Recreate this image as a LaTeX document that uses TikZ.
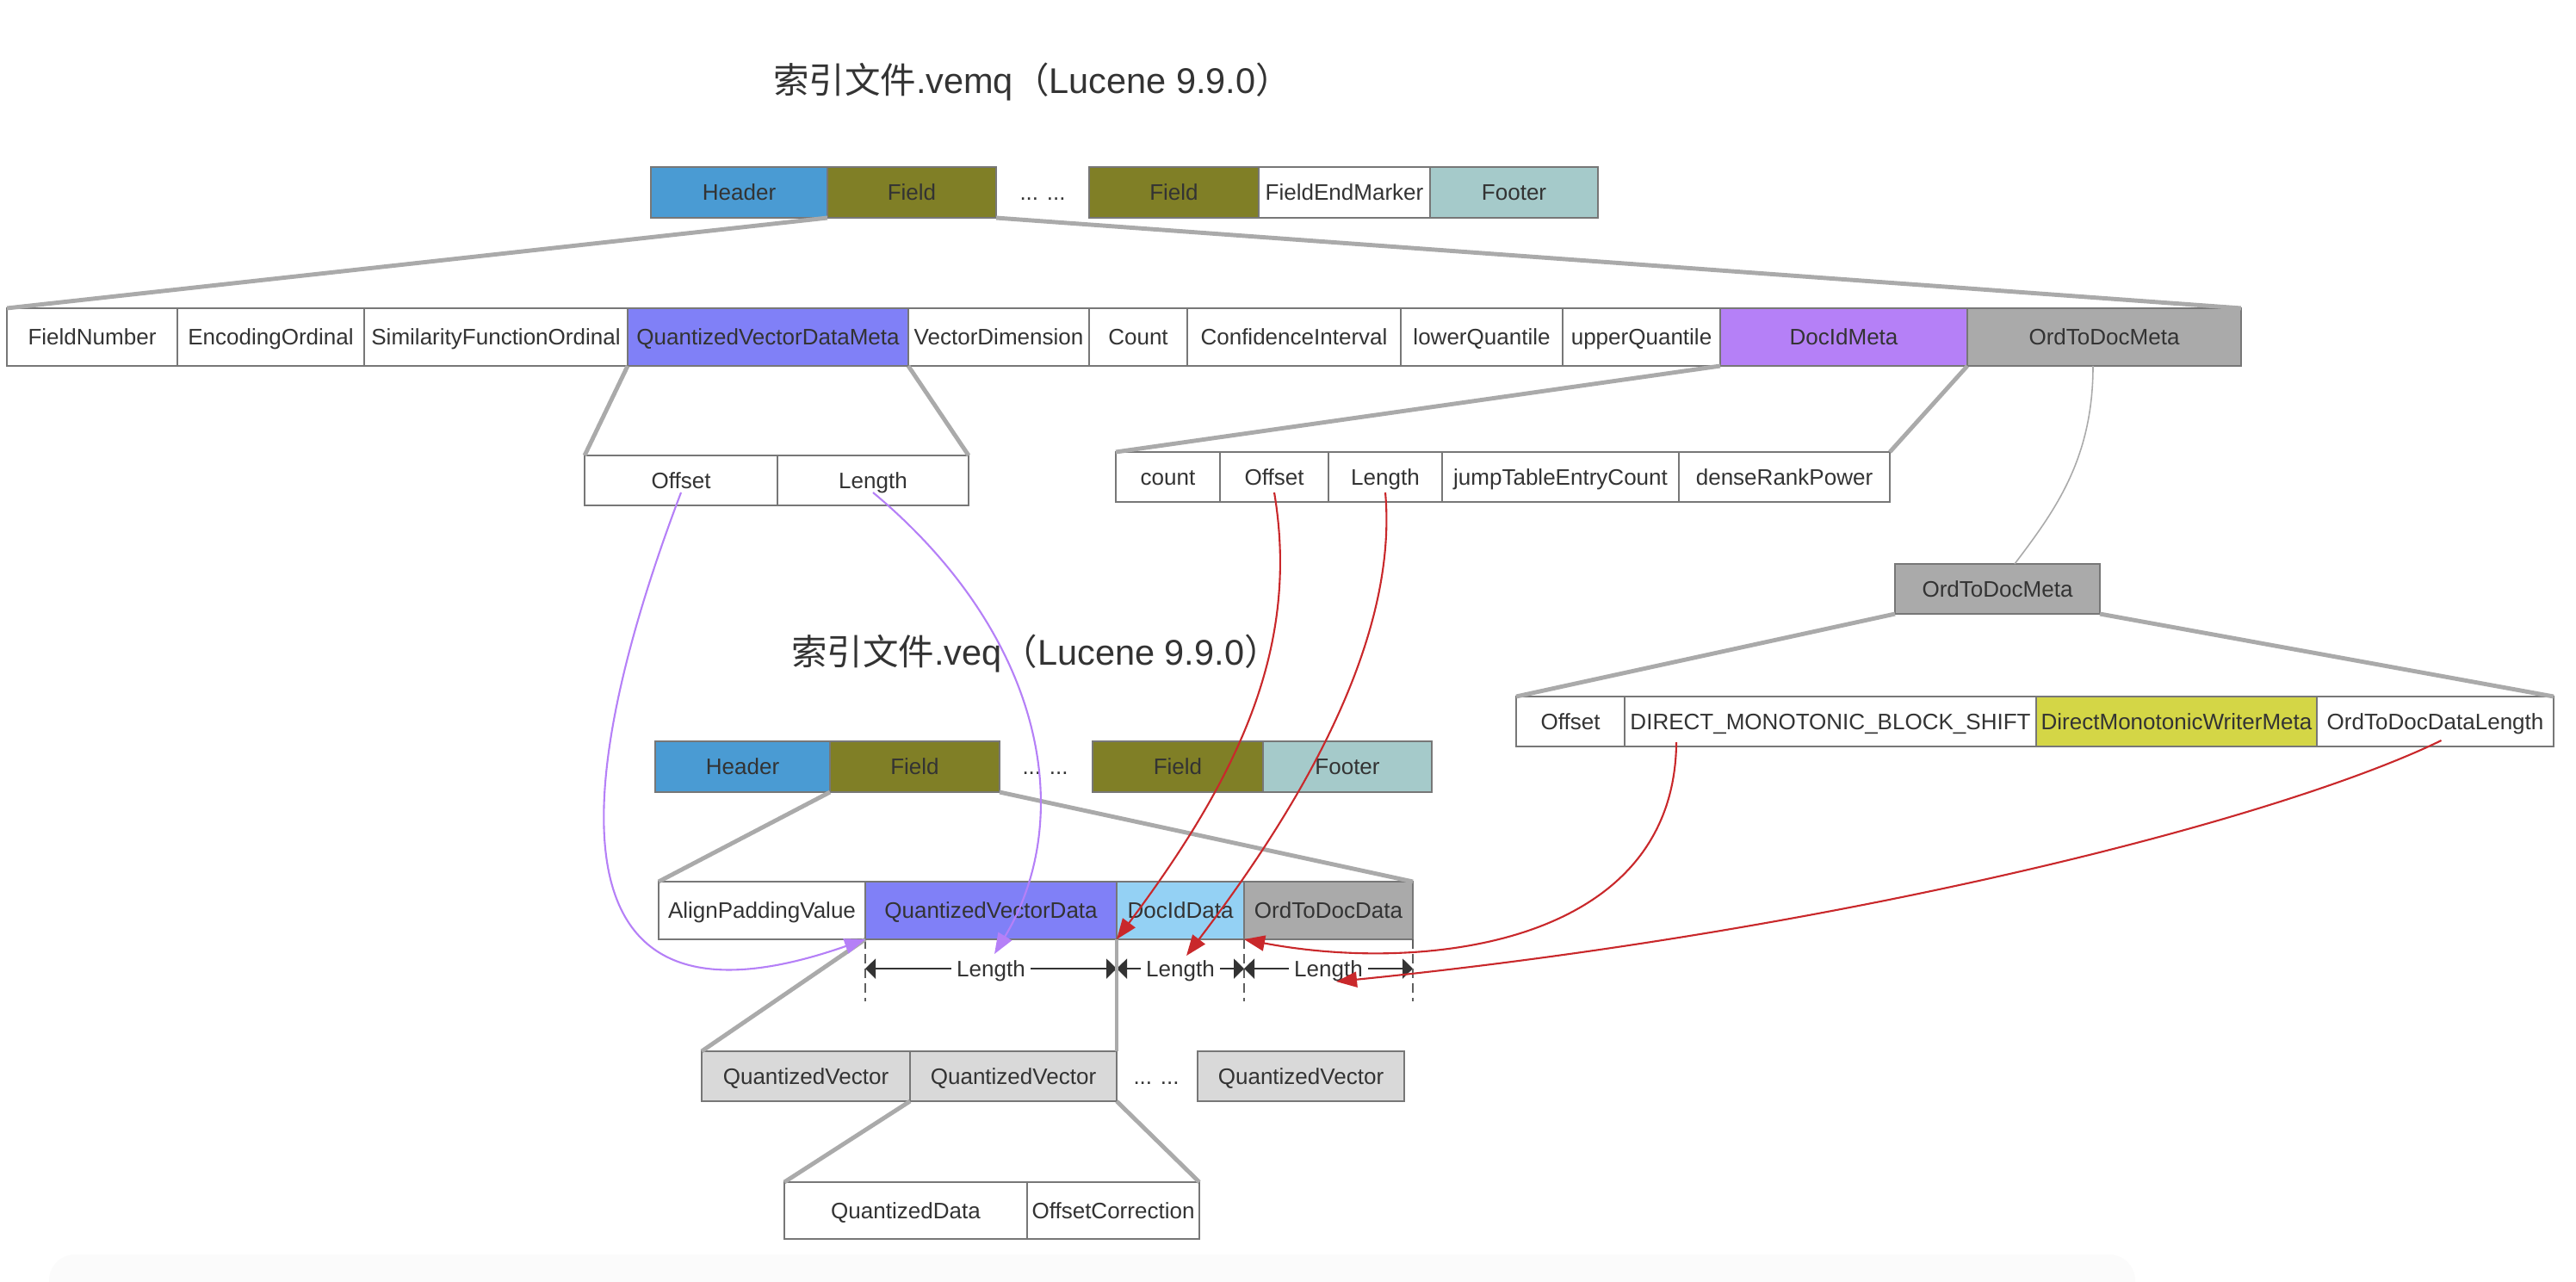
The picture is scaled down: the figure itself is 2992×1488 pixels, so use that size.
\documentclass[tikz,border=0pt]{standalone}
\usepackage{fontspec}
\setmainfont{Liberation Sans}
\newfontfamily\cjk{Noto Sans CJK SC}
\usepackage{xcolor}
\usepackage{tikz}
\usetikzlibrary{positioning}
\usetikzlibrary{arrows.meta}

\definecolor{hdrblue}{HTML}{4A9BD3}
\definecolor{fldolive}{HTML}{807F26}
\definecolor{ftrteal}{HTML}{A5CACA}
\definecolor{qvblue}{HTML}{8080F7}
\definecolor{docpurple}{HTML}{B580F7}
\definecolor{ordgray}{HTML}{AAAAAA}
\definecolor{docsky}{HTML}{94D1F4}
\definecolor{dmwyellow}{HTML}{D4D646}
\definecolor{vecgray}{HTML}{D9D9D9}
\definecolor{boxline}{HTML}{777777}
\definecolor{linkgray}{HTML}{AAAAAA}
\definecolor{txtgray}{HTML}{333333}
\definecolor{ptrred}{HTML}{C9282B}
\definecolor{ptrpurple}{HTML}{B580F7}

\begin{document}
\begin{tikzpicture}[x=0.01cm, y=-0.01cm,
    cell/.style={draw=boxline, line width=0.75pt, inner sep=0pt, outer sep=0pt,
        text height=0.186cm, text depth=0cm,
        text=txtgray, font=\fontsize{7.4pt}{9pt}\selectfont},
    dots/.style={text height=0.186cm, text depth=0cm, text=txtgray,
        font=\fontsize{7.4pt}{9pt}\selectfont},
    title/.style={text=txtgray, font=\fontsize{11.8pt}{14pt}\selectfont},
    link/.style={draw=linkgray, line width=1.4pt},
    thinlink/.style={draw=linkgray, line width=0.45pt},
    redptr/.style={draw=ptrred, line width=0.6pt, -{Triangle[length=0.24cm, width=0.18cm]}},
    purpleptr/.style={draw=ptrpurple, line width=0.6pt, -{Triangle[length=0.24cm, width=0.18cm]}},
    dimline/.style={draw=txtgray, line width=0.6pt,
        {Triangle[length=0.12cm, width=0.23cm]}-{Triangle[length=0.12cm, width=0.23cm]}},
    dimlabel/.style={fill=white, inner xsep=0.06cm, inner ysep=0pt, text=txtgray,
        text height=0.186cm, text depth=0cm, font=\fontsize{7.4pt}{9pt}\selectfont},
    extline/.style={draw=boxline!80!black, line width=0.55pt, dash pattern=on 0.11cm off 0.06cm}]

    \useasboundingbox (0,0) rectangle (2992,1488);
    % Sombra al pie
    \fill[black!1.5, rounded corners=0.3cm] (57,1457) rectangle (2480,1530);

    % Archivo .vemq
    \node[title] (vemqtitle) at (1199,95) {{\cjk 索引文件}.vemq{\cjk （}Lucene 9.9.0{\cjk ）}};
    \foreach \nm/\xa/\xb/\yc/\h/\lbl/\col in {
        hdrA/756/961/223.5/0.59/Header/hdrblue,
        fldA/961/1157/223.5/0.59/Field/fldolive,
        fldB/1265/1462/223.5/0.59/Field/fldolive,
        endA/1462/1661/223.5/0.59/FieldEndMarker/white,
        ftrA/1661/1856/223.5/0.59/Footer/ftrteal,
        fnum/8/206/391.5/0.67/FieldNumber/white,
        encord/206/423/391.5/0.67/EncodingOrdinal/white,
        simord/423/729/391.5/0.67/SimilarityFunctionOrdinal/white,
        qvdmeta/729/1055/391.5/0.67/QuantizedVectorDataMeta/qvblue,
        vecdim/1055/1265/391.5/0.67/VectorDimension/white,
        cnt/1265/1379/391.5/0.67/Count/white,
        confint/1379/1627/391.5/0.67/ConfidenceInterval/white,
        lowq/1627/1815/391.5/0.67/lowerQuantile/white,
        upq/1815/1998/391.5/0.67/upperQuantile/white,
        docmeta/1998/2285/391.5/0.67/DocIdMeta/docpurple,
        ordmeta/2285/2603/391.5/0.67/OrdToDocMeta/ordgray,
        qoff/679/903/558/0.58/Offset/white,
        qlen/903/1125/558/0.58/Length/white,
        dcnt/1296/1417/554/0.58/count/white,
        doff/1417/1543/554/0.58/Offset/white,
        dlen/1543/1675/554/0.58/Length/white,
        djump/1675/1950/554/0.58/jumpTableEntryCount/white,
        drank/1950/2195/554/0.58/denseRankPower/white,
        ordmetab/2201/2439/684/0.58/OrdToDocMeta/ordgray,
        ooff/1761/1887/838/0.58/Offset/white,
        oshift/1887/2365/838/0.58/DIRECT\_MONOTONIC\_BLOCK\_SHIFT/white,
        owmeta/2365/2691/838/0.58/DirectMonotonicWriterMeta/dmwyellow,
        olen/2691/2966/838/0.58/OrdToDocDataLength/white} {
        \node[cell, fill=\col, minimum width={(\xb-\xa)*0.01cm}, minimum height=\h cm]
            (\nm) at ({(\xa+\xb)/2},\yc) {\lbl};
    }
    \node[dots] (dotsA) at (1211,223.5) {... ...};

    % Archivo .veq
    \node[title] (veqtitle) at (1203,759) {{\cjk 索引文件}.veq{\cjk （}Lucene 9.9.0{\cjk ）}};
    \foreach \nm/\xa/\xb/\yc/\h/\lbl/\col in {
        hdrB/761/964/890.5/0.59/Header/hdrblue,
        fldC/964/1161/890.5/0.59/Field/fldolive,
        fldD/1269/1467/890.5/0.59/Field/fldolive,
        ftrB/1467/1663/890.5/0.59/Footer/ftrteal,
        apv/765/1005/1057.5/0.67/AlignPaddingValue/white,
        qvd/1005/1297/1057.5/0.67/QuantizedVectorData/qvblue,
        did/1297/1445/1057.5/0.67/DocIdData/docsky,
        otd/1445/1641/1057.5/0.67/OrdToDocData/ordgray,
        qv1/815/1057/1250/0.58/QuantizedVector/vecgray,
        qv2/1057/1297/1250/0.58/QuantizedVector/vecgray,
        qv3/1391/1631/1250/0.58/QuantizedVector/vecgray,
        qdata/911/1193/1406/0.66/QuantizedData/white,
        ocorr/1193/1393/1406/0.66/OffsetCorrection/white} {
        \node[cell, fill=\col, minimum width={(\xb-\xa)*0.01cm}, minimum height=\h cm]
            (\nm) at ({(\xa+\xb)/2},\yc) {\lbl};
    }
    \node[dots] (dotsB) at (1214,890.5) {... ...};
    \node[dots] (dotsC) at (1343,1250) {... ...};

    % Cotas de longitud
    \foreach \nm in {qvd, did, otd} {
        \draw[extline] (\nm.south west) -- ([yshift=-0.72cm]\nm.south west);
        \draw[dimline] ([yshift=-0.34cm]\nm.south west) -- node[dimlabel] {Length}
            ([yshift=-0.34cm]\nm.south east);
    }
    \draw[extline] (otd.south east) -- ([yshift=-0.72cm]otd.south east);

    % Despliegues
    \draw[link] (fldA.south west) -- (fnum.north west);
    \draw[link] (fldA.south east) -- (ordmeta.north east);
    \draw[link] (qvdmeta.south west) -- (qoff.north west);
    \draw[link] (qvdmeta.south east) -- (qlen.north east);
    \draw[link] (docmeta.south west) -- (dcnt.north west);
    \draw[link] (ordmeta.south west) -- (drank.north east);
    \draw[link] (ordmetab.south west) -- (ooff.north west);
    \draw[link] (ordmetab.south east) -- (olen.north east);
    \draw[thinlink] ([xshift=-0.13cm]ordmeta.south) .. controls +(0,110) and +(45,-60) .. ([xshift=0.2cm]ordmetab.north);
    \draw[link] (fldC.south west) -- (apv.north west);
    \draw[link] (fldC.south east) -- (otd.north east);
    \draw[link] (qvd.south west) -- (qv1.north west);
    \draw[link] (qvd.south east) -- (qv2.north east);
    \draw[link] (qv2.south west) -- (qdata.north west);
    \draw[link] (qv2.south east) -- (ocorr.north east);

    % Punteros
    \draw[purpleptr] ([yshift=-0.14cm]qoff.center) .. controls +(-110,290) and +(-400,140) .. (qvd.south west);
    \draw[purpleptr] ([yshift=-0.14cm]qlen.center) .. controls +(201,168) and +(95,-158) .. ([xshift=0.04cm,yshift=-0.17cm]qvd.south);
    \draw[redptr] ([yshift=-0.18cm]doff.center) .. controls +(30,178) and +(143,-191) .. (did.south west);
    \draw[redptr] ([yshift=-0.18cm]dlen.center) .. controls +(16,178) and +(122,-160) .. ([xshift=0.07cm,yshift=-0.19cm]did.south);
    \draw[redptr] ([xshift=0.6cm,yshift=-0.24cm]oshift.west) .. controls +(-2,238) and +(205,39) .. (otd.south west);
    \draw[redptr] ([xshift=0.07cm,yshift=-0.22cm]olen.center) .. controls +(-185,90) and +(598,-60) .. ([xshift=0.09cm,yshift=-0.49cm]otd.south);

\end{tikzpicture}
\end{document}
